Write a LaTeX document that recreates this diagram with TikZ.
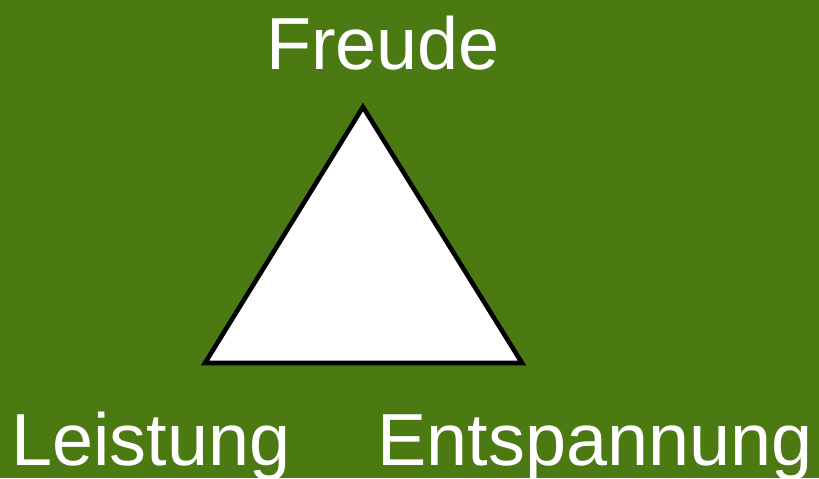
\documentclass[tikz,border=0pt]{standalone}
\usepackage{fontspec}
\setmainfont{Liberation Sans}
\usepackage{tikz}
\definecolor{wiese}{RGB}{76,122,18}

\begin{document}
\begin{tikzpicture}[
  every node/.style={font=\fontsize{21}{24}\selectfont, text=white, inner sep=0pt},
  ecke/.style={anchor=base},
  dreieck/.style={draw=black, line width=1.3pt, fill=white, line join=miter}]

\fill[wiese] (0,0) rectangle (8.19,4.78);
\useasboundingbox (0,0) rectangle (8.19,4.78);

\coordinate (oben)   at (3.63,3.71);
\coordinate (links)  at (2.05,1.15);
\coordinate (rechts) at (5.22,1.15);

\draw[dreieck] (oben)--(rechts)--(links)--cycle;

\node[ecke] (freude) at (3.83,4.09) {Freude};
\node[ecke] (leist)  at (1.51,0.13) {Leistung};
\node[ecke] (entsp)  at (5.95,0.13) {Entspannung};
\end{tikzpicture}
\end{document}
